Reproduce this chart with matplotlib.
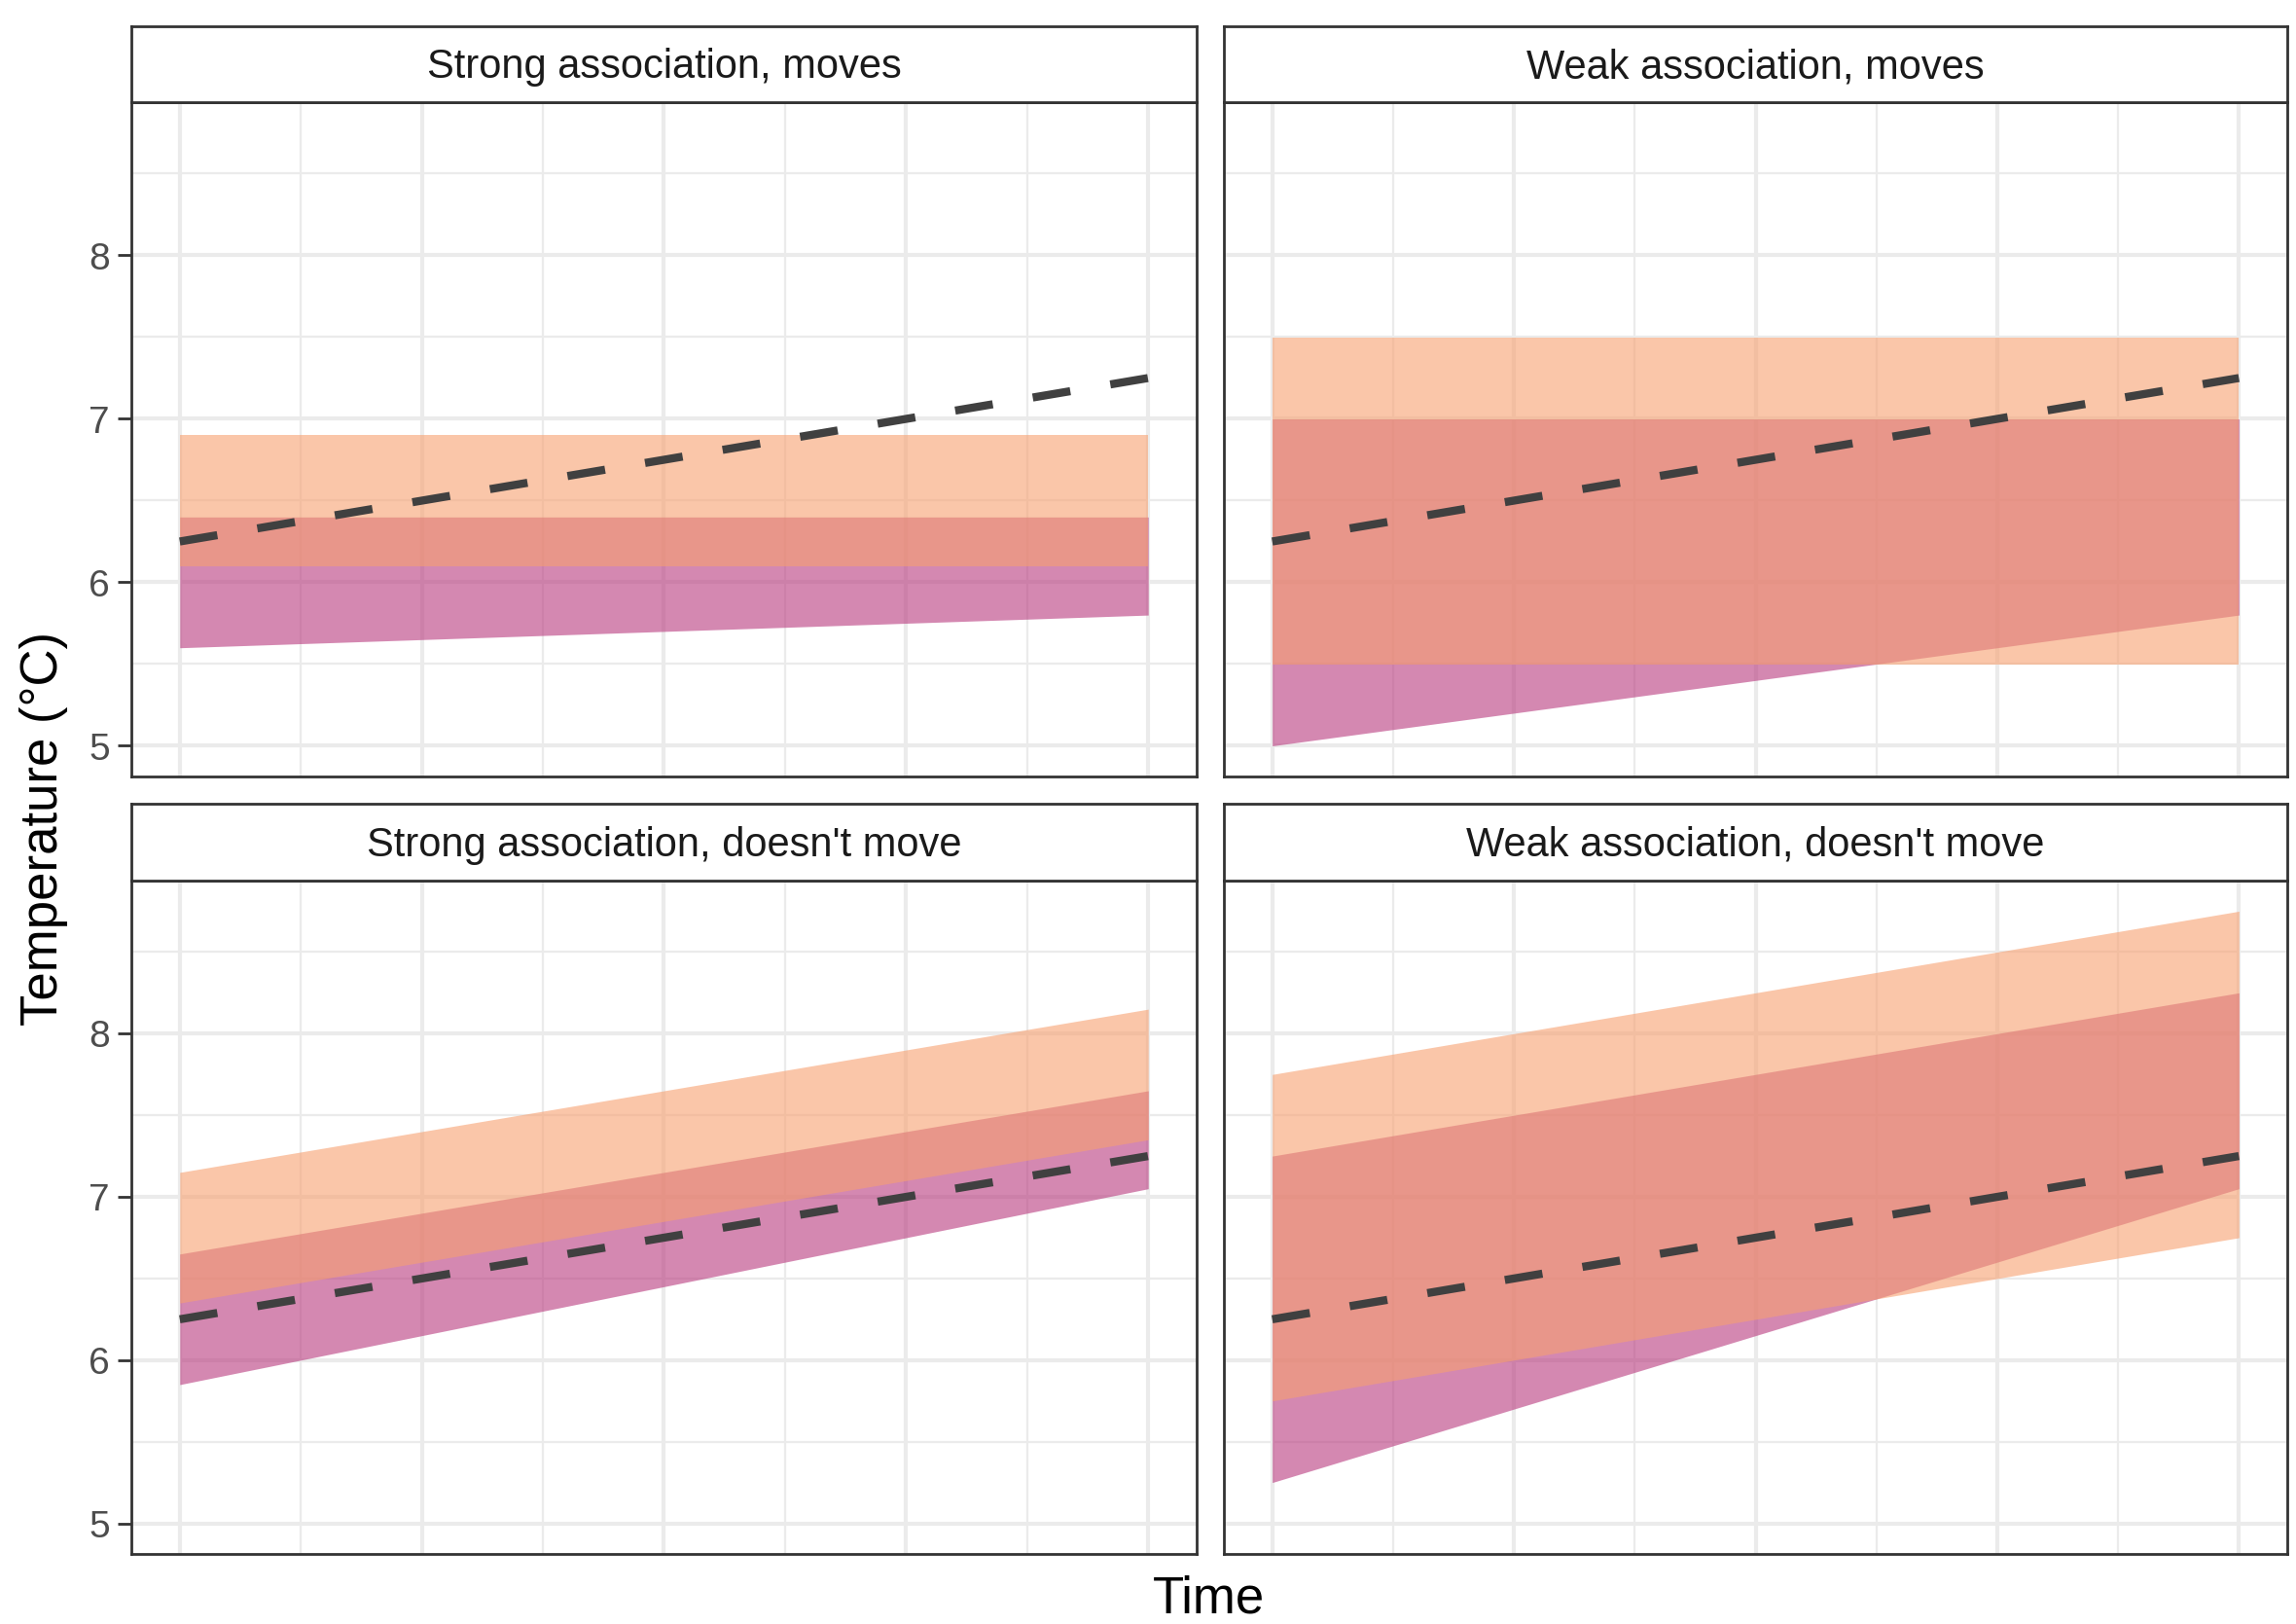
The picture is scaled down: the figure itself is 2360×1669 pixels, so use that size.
import numpy as np
import matplotlib.pyplot as plt

plt.rcParams['font.family'] = ['Liberation Sans', 'DejaVu Sans']

# data
time = [0, 1]
titles = ["Strong association, moves", "Weak association, moves",
          "Strong association, doesn't move", "Weak association, doesn't move"]
# peach band (lower, upper) at time 0 and time 1
peach_lo = [[6.1, 6.1], [5.5, 5.5], [6.35, 7.35], [5.75, 6.75]]
peach_hi = [[6.9, 6.9], [7.5, 7.5], [7.15, 8.15], [7.75, 8.75]]
# purple band
purple_lo = [[5.6, 5.8], [5.0, 5.8], [5.85, 7.05], [5.25, 7.05]]
purple_hi = [[6.4, 6.4], [7.0, 7.0], [6.65, 7.65], [7.25, 8.25]]
# dashed reference line
ref_line = [6.25, 7.25]

W, H = 2360, 1669
fig = plt.figure(figsize=(W/200, H/200), dpi=200)

col_x = [(135, 1230), (1258, 2351)]
row_y = [(27, 105, 798), (826, 905, 1597)]  # strip top, panel top, panel bottom

ylim = (4.8125, 8.9375)
xlim = (-0.05, 1.05)
border = '#333333'

for i, title in enumerate(titles):
    r, c = divmod(i, 2)
    x0, x1 = col_x[c]
    st, pt, pb = row_y[r]
    ax = fig.add_axes([x0/W, 1-pb/H, (x1-x0)/W, (pb-pt)/H])
    sax = fig.add_axes([x0/W, 1-pt/H, (x1-x0)/W, (pt-st)/H])

    # grid
    for yv in [5, 6, 7, 8]:
        ax.axhline(yv, color='#EBEBEB', lw=1.5, zorder=0)
    for yv in [4.5, 5.5, 6.5, 7.5, 8.5]:
        ax.axhline(yv, color='#EBEBEB', lw=0.8, zorder=0)
    for xv in np.arange(0, 1.01, 0.25):
        ax.axvline(xv, color='#EBEBEB', lw=1.5, zorder=0)
    for xv in np.arange(0.125, 1, 0.25):
        ax.axvline(xv, color='#EBEBEB', lw=0.8, zorder=0)

    ax.fill_between(time, purple_lo[i], purple_hi[i], color='#B8397E', alpha=0.6, lw=0, zorder=2)
    ax.fill_between(time, peach_lo[i], peach_hi[i], color='#F7A070', alpha=0.6, lw=0, zorder=3)
    ax.plot(time, ref_line, color='#404040', lw=3.0, ls=(0, (4.7, 5.0)), zorder=4)

    ax.set_xlim(*xlim)
    ax.set_ylim(*ylim)
    ax.set_xticks([])
    ax.set_yticks([5, 6, 7, 8])
    if c == 0:
        ax.tick_params(axis='y', length=5, width=1, color=border, labelsize=14,
                       labelcolor='#4D4D4D', pad=3)
    else:
        ax.tick_params(axis='y', length=0, labelleft=False)
    for s in ax.spines.values():
        s.set_color(border)
        s.set_linewidth(1.0)

    sax.set_xticks([])
    sax.set_yticks([])
    sax.set_facecolor('white')
    for s in sax.spines.values():
        s.set_color(border)
        s.set_linewidth(1.0)
    sax.text(0.5, 0.46, title, ha='center', va='center', fontsize=15,
             color='#1A1A1A', transform=sax.transAxes)

fig.text(1243/W, 1-1643/H, 'Time', ha='center', va='center', fontsize=19)
fig.text(45/W, 1-851/H, 'Temperature (°C)', ha='center', va='center',
         rotation=90, fontsize=19)

fig.savefig('out.png', dpi=200, facecolor='white')
